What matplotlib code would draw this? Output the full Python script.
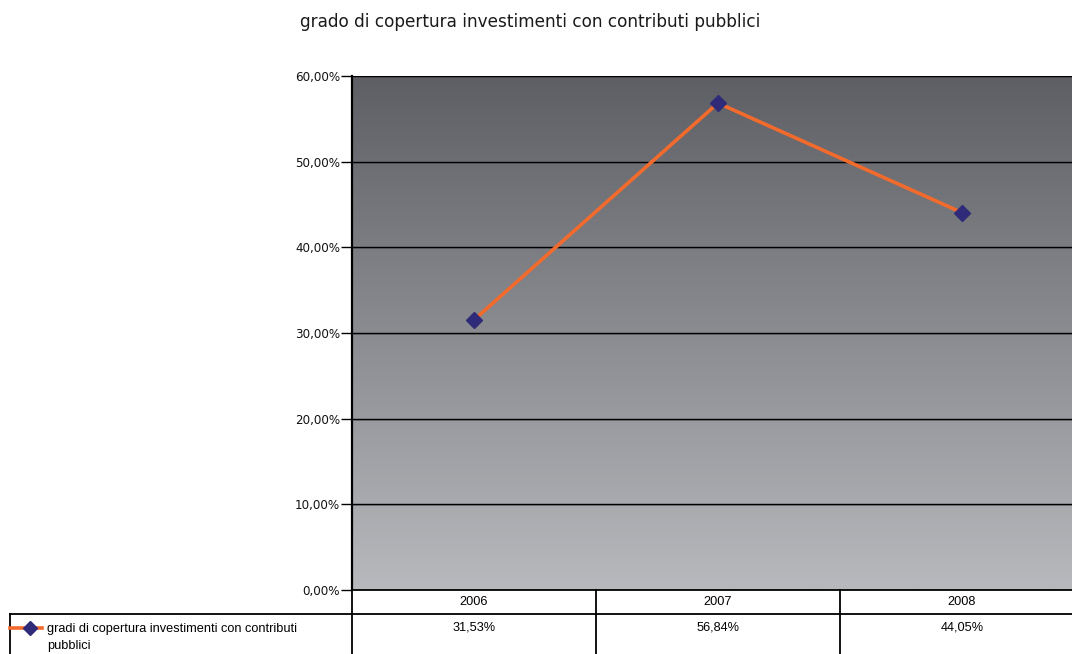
import numpy as np
import matplotlib
matplotlib.use("Agg")
import matplotlib.pyplot as plt
from matplotlib.lines import Line2D
from matplotlib.colors import LinearSegmentedColormap
from matplotlib.font_manager import FontProperties

years = ["2006", "2007", "2008"]
values = [31.53, 56.84, 44.05]
series_name = "gradi di copertura investimenti con contributi\npubblici"
title = "grado di copertura investimenti con contributi pubblici"
y_ticks = [0, 10, 20, 30, 40, 50, 60]

W, H = 1072, 654
fig = plt.figure(figsize=(W / 100, H / 100), dpi=100)

table_font = FontProperties(family="Liberation Sans", stretch="normal", size=9.2)

# plot area in pixel units
left_px, right_px, top_px, bottom_px = 352, 1084, 76, 590
ph = bottom_px - top_px
ax = fig.add_axes([left_px / W, (H - bottom_px) / H,
                   (right_px - left_px) / W, ph / H])
ax.set_xlim(-0.5, len(years) - 0.5)
ax.set_ylim(0, 60)

# vertical grey gradient background
cmap = LinearSegmentedColormap.from_list("bg", ["#b8b9bd", "#5e5f64"])
grad = np.linspace(0, 1, 256).reshape(-1, 1)
ax.imshow(grad, aspect="auto", cmap=cmap, origin="lower",
          extent=[-0.5, len(years) - 0.5, 0, 60], zorder=0)

for t in y_ticks[1:]:
    ax.axhline(t, color="black", lw=1.0, zorder=1)
    ax.axhline(t - 0.12, color="#444448", lw=0.6, alpha=0.5, zorder=1)

x = np.arange(len(years))
ax.plot(x, values, color="#f26a2c", lw=2.6, zorder=3, solid_capstyle="butt")
ax.plot(x, values, ls="none", marker="D", ms=8.5, mfc="#2f2b78", mec="#2f2b78",
        zorder=4)

ax.set_yticks(y_ticks)
ax.set_yticklabels([f"{t:.2f}".replace(".", ",") + "%" for t in y_ticks],
                   fontsize=8.6, family="DejaVu Sans", color="#111111")
ax.tick_params(axis="y", length=8, width=1, direction="out", pad=0.5)
ax.tick_params(axis="x", length=0, labelbottom=False)
for s in ["top", "right", "bottom"]:
    ax.spines[s].set_visible(False)
ax.spines["left"].set_linewidth(1.6)

# data table under the plot area
row1 = 24 / ph
row2 = 64 / ph
tr = ax.get_xaxis_transform()
x_left = -0.5 - (left_px - 10) / 244
lc = dict(color="black", lw=1.3, clip_on=False, zorder=5)
ax.add_line(Line2D([-0.5, 2.5], [0, 0], transform=tr, **lc))
ax.add_line(Line2D([x_left, 2.5], [-row1, -row1], transform=tr, **lc))
for xv in [-0.5, 0.5, 1.5]:
    ax.add_line(Line2D([xv, xv], [0, -row2 - 0.01], transform=tr, **lc))
ax.add_line(Line2D([x_left, x_left], [-row1, -row2 - 0.01], transform=tr, **lc))

for i, (yr, v) in enumerate(zip(years, values)):
    ax.text(i, -12 / ph, yr, transform=tr, ha="center", va="center",
            fontproperties=table_font)
    ax.text(i, -37 / ph, f"{v:.2f}".replace(".", ",") + "%", transform=tr,
            ha="center", va="center", fontproperties=table_font)

# legend key inside the table's first column
ky = -38 / ph
ax.add_line(Line2D([x_left, x_left + 32 / 244], [ky, ky], transform=tr,
                   color="#f26a2c", lw=2.6, clip_on=False, zorder=6))
ax.add_line(Line2D([x_left + 20 / 244], [ky], transform=tr, marker="D", ms=7,
                   mfc="#2f2b78", mec="#2f2b78", clip_on=False, zorder=7))
ax.text(x_left + 37 / 244, ky + 5 / ph, series_name, transform=tr, ha="left",
        va="top", fontproperties=table_font, linespacing=1.6)

fig.text(530 / W, 1 - 22 / H, title, ha="center", va="center", fontsize=12.2,
         family="DejaVu Sans", color="#1a1a1a")

fig.savefig("out.png", dpi=100)
